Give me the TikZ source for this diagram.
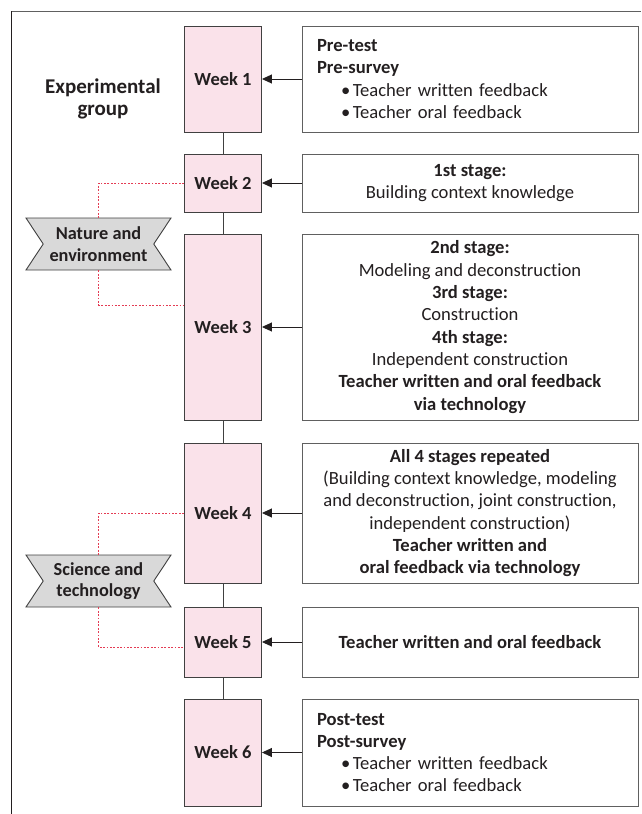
\documentclass[tikz,border=0pt]{standalone}
\usepackage{fontspec}
\setmainfont{Carlito}[Ligatures=NoCommon]
\usetikzlibrary{arrows.meta,shapes.symbols}
\definecolor{weekpink}{RGB}{250,226,234}
\definecolor{weekline}{RGB}{64,64,64}
\definecolor{boxline}{RGB}{96,96,96}
\definecolor{inkdark}{RGB}{35,31,32}
\definecolor{dotred}{RGB}{228,60,84}
\definecolor{bannergray}{RGB}{217,217,217}
\tikzset{
    week/.style={draw=weekline, fill=weekpink, line width=0.9pt, minimum width=77pt,
        inner sep=0pt, font=\fontsize{18.5}{20}\selectfont\bfseries},
    infobox/.style={draw=boxline, line width=0.9pt, minimum width=336pt, inner sep=0pt,
        font=\fontsize{18.6}{22.3}\selectfont},
    banner/.style={shape=signal, signal from=west and east, signal to=nowhere,
        signal pointer angle=113, draw=weekline, fill=bannergray, line width=0.9pt,
        minimum width=145pt, minimum height=52pt, inner sep=0pt, align=center,
        font=\fontsize{18.3}{21.5}\selectfont\bfseries},
    feed/.style={draw=inkdark, line width=0.9pt, -{Triangle[length=10pt,width=9pt]}},
    dotline/.style={draw=dotred, line width=1pt, dash pattern=on 1.8pt off 1.6pt},
}
\newcommand{\bitem}[1]{\hspace*{24pt}\textbullet\hspace{2.5pt}#1}
\begin{document}
\begin{tikzpicture}[x=1pt, y=-1pt, text=inkdark]
    \useasboundingbox (0,0) rectangle (641,814);
    % frame
    \draw[boxline, line width=0.9pt] (11,11) -- (641,11);
    \draw[inkdark, line width=0.9pt] (11,11) -- (11,814);

    \node[align=center, font=\fontsize{21}{22}\selectfont\bfseries] (group) at (103,99) {Experimental\\group};

    % weeks
    \foreach \i/\y/\h in {1/79/106, 2/183/58, 3/327/186, 4/513/140, 5/642/70, 6/752.5/107}
    {
        \node[week, minimum height=\h pt] (w\i) at (223,\y) {Week \i};
    }
    \foreach \i in {1,...,5}
    {
        \pgfmathtruncatemacro{\j}{\i+1}
        \draw[weekline, line width=0.9pt] (w\i) -- (w\j);
    }

    % activities
    \node[infobox, minimum height=106pt, text width=306pt, inner xsep=15pt, align=left] (b1) at (470,79)
        {\textbf{Pre-test}\\\textbf{Pre-survey}\\\bitem{Teacher written feedback}\\\bitem{Teacher oral feedback}};
    \node[infobox, minimum height=58pt, align=center] (b2) at (470,183)
        {\textbf{1st stage:}\\Building context knowledge};
    \node[infobox, minimum height=186pt, align=center] (b3) at (470,327)
        {\textbf{2nd stage:}\\Modeling and deconstruction\\\textbf{3rd stage:}\\Construction\\\textbf{4th stage:}\\Independent construction\\
         \textbf{Teacher written and oral feedback}\\\textbf{via technology}};
    \node[infobox, minimum height=140pt, align=center] (b4) at (470,513)
        {\textbf{All 4 stages repeated}\\(Building context knowledge, modeling\\and deconstruction, joint construction,\\independent construction)\\
         \textbf{Teacher written and}\\\textbf{oral feedback via technology}};
    \node[infobox, minimum height=70pt, align=center] (b5) at (470,642)
        {\textbf{Teacher written and oral feedback}};
    \node[infobox, minimum height=107pt, text width=306pt, inner xsep=15pt, align=left] (b6) at (470,752.5)
        {\textbf{Post-test}\\\textbf{Post-survey}\\\bitem{Teacher written feedback}\\\bitem{Teacher oral feedback}};

    \foreach \i in {1,...,6}
        \draw[feed] (b\i) -- (w\i);

    % themes
    \node[banner] (nature) at (98.5,244) {Nature and\\environment};
    \node[banner] (science) at (98.5,581) {Science and\\technology};

    \draw[dotline] (w2.west) -| (nature.north);
    \draw[dotline] (nature.south) |- ([yshift=22pt]w3.west);
    \draw[dotline] (w4.west) -| (science.north);
    \draw[dotline] (science.south) |- ([yshift=-5pt]w5.west);
\end{tikzpicture}
\end{document}
